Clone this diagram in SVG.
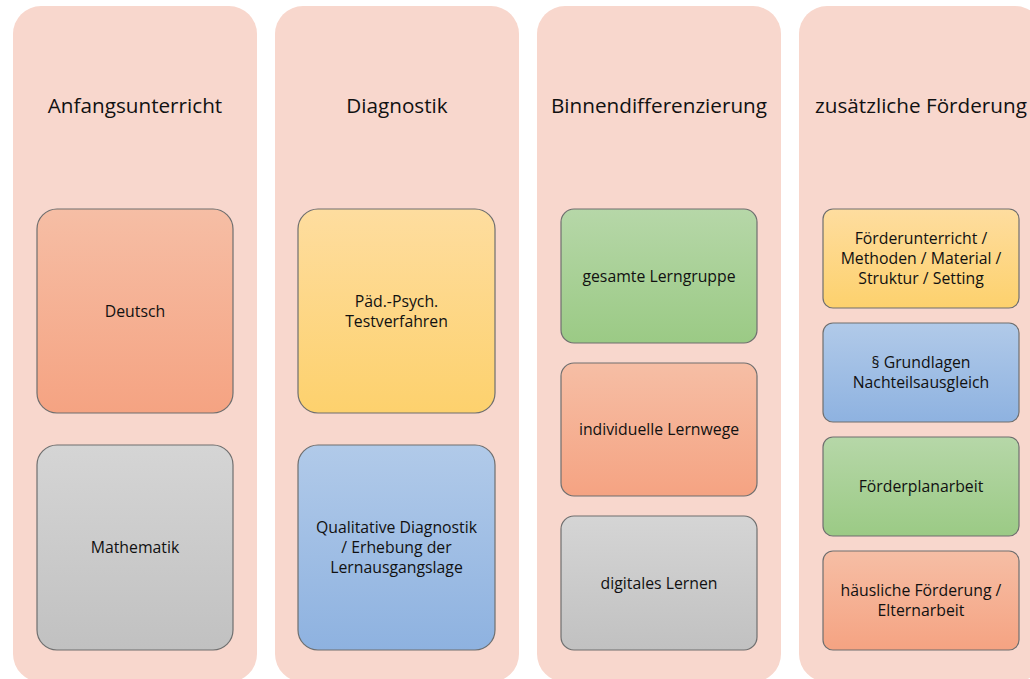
<svg xmlns="http://www.w3.org/2000/svg" width="1030" height="679" viewBox="0 0 1030 679">
<defs>
<linearGradient id="gOrange" x1="0" y1="0" x2="0" y2="1"><stop offset="0" stop-color="#f6bea5"/><stop offset="1" stop-color="#f5a382"/></linearGradient>
<linearGradient id="gGrey" x1="0" y1="0" x2="0" y2="1"><stop offset="0" stop-color="#d5d5d5"/><stop offset="1" stop-color="#c1c1c1"/></linearGradient>
<linearGradient id="gYellow" x1="0" y1="0" x2="0" y2="1"><stop offset="0" stop-color="#fedd9f"/><stop offset="1" stop-color="#fdd16d"/></linearGradient>
<linearGradient id="gBlue" x1="0" y1="0" x2="0" y2="1"><stop offset="0" stop-color="#b1cae9"/><stop offset="1" stop-color="#8eb2e0"/></linearGradient>
<linearGradient id="gGreen" x1="0" y1="0" x2="0" y2="1"><stop offset="0" stop-color="#b6d7a8"/><stop offset="1" stop-color="#9bca85"/></linearGradient>
</defs>
<style>
.col{fill:#f8d7cd;}
.box{stroke:#6f6f6f;stroke-width:1.2;}
.hd{font-family:"Open Sans","Liberation Sans",sans-serif;font-size:20.7px;fill:#111;text-anchor:middle;}
.tx{font-family:"Open Sans","Liberation Sans",sans-serif;font-size:15.8px;fill:#111;text-anchor:middle;}
</style>
<rect width="1030" height="679" fill="#ffffff"/>
<g id="col1">
<rect class="col" x="13" y="6" width="244" height="676" rx="28"/>
<text class="hd" x="135" y="113">Anfangsunterricht</text>
</g>
<g id="col2">
<rect class="col" x="275" y="6" width="244" height="676" rx="28"/>
<text class="hd" x="397" y="113">Diagnostik</text>
</g>
<g id="col3">
<rect class="col" x="537" y="6" width="244" height="676" rx="28"/>
<text class="hd" x="659" y="113">Binnendifferenzierung</text>
</g>
<g id="col4">
<rect class="col" x="799" y="6" width="244" height="676" rx="28"/>
<text class="hd" x="921" y="113">zusätzliche Förderung</text>
</g>
<g id="deutsch">
<rect class="box" x="37" y="209" width="196" height="204" rx="20" fill="url(#gOrange)"/>
<text class="tx" x="135" y="317">Deutsch</text>
</g>
<g id="mathematik">
<rect class="box" x="37" y="445" width="196" height="205" rx="20" fill="url(#gGrey)"/>
<text class="tx" x="135" y="553">Mathematik</text>
</g>
<g id="testverfahren">
<rect class="box" x="298" y="209" width="197" height="204" rx="20" fill="url(#gYellow)"/>
<text class="tx" x="396.5" y="306.5">Päd.-Psych.</text>
<text class="tx" x="396.5" y="326.5">Testverfahren</text>
</g>
<g id="qualitative">
<rect class="box" x="298" y="445" width="197" height="205" rx="20" fill="url(#gBlue)"/>
<text class="tx" x="396.5" y="533">Qualitative Diagnostik</text>
<text class="tx" x="396.5" y="553">/ Erhebung der</text>
<text class="tx" x="396.5" y="573">Lernausgangslage</text>
</g>
<g id="lerngruppe">
<rect class="box" x="561" y="209" width="196" height="134" rx="13" fill="url(#gGreen)"/>
<text class="tx" x="659" y="281.5">gesamte Lerngruppe</text>
</g>
<g id="lernwege">
<rect class="box" x="561" y="363" width="196" height="133" rx="13" fill="url(#gOrange)"/>
<text class="tx" x="659" y="435">individuelle Lernwege</text>
</g>
<g id="digitales">
<rect class="box" x="561" y="516" width="196" height="134" rx="13" fill="url(#gGrey)"/>
<text class="tx" x="659" y="588.5">digitales Lernen</text>
</g>
<g id="foerderunterricht">
<rect class="box" x="823" y="209" width="196" height="99" rx="10" fill="url(#gYellow)"/>
<text class="tx" x="921" y="244">Förderunterricht /</text>
<text class="tx" x="921" y="264">Methoden / Material /</text>
<text class="tx" x="921" y="284">Struktur / Setting</text>
</g>
<g id="grundlagen">
<rect class="box" x="823" y="323" width="196" height="99" rx="10" fill="url(#gBlue)"/>
<text class="tx" x="921" y="368">§ Grundlagen</text>
<text class="tx" x="921" y="388">Nachteilsausgleich</text>
</g>
<g id="foerderplanarbeit">
<rect class="box" x="823" y="437" width="196" height="99" rx="10" fill="url(#gGreen)"/>
<text class="tx" x="921" y="492">Förderplanarbeit</text>
</g>
<g id="haeusliche">
<rect class="box" x="823" y="551" width="196" height="99" rx="10" fill="url(#gOrange)"/>
<text class="tx" x="921" y="596">häusliche Förderung /</text>
<text class="tx" x="921" y="616">Elternarbeit</text>
</g>
<g id="connectors"></g>
</svg>
